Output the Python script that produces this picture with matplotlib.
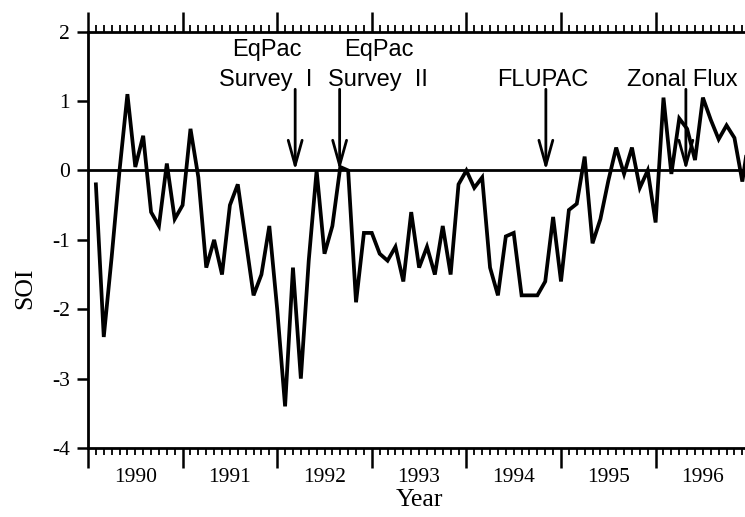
import matplotlib
matplotlib.use("Agg")
import matplotlib.pyplot as plt
from matplotlib.ticker import MultipleLocator, NullFormatter
import matplotlib.transforms as mtransforms

# monthly SOI, Jan 1990 onwards
soi = [-0.2, -2.4, -1.25, 0.0, 1.1, 0.05, 0.5, -0.6, -0.8, 0.1, -0.7, -0.5,
       0.6, -0.1, -1.4, -1.0, -1.5, -0.5, -0.2, -1.0, -1.8, -1.5, -0.8, -2.0,
       -3.4, -1.4, -3.0, -1.3, 0.0, -1.2, -0.8, 0.05, 0.0, -1.9, -0.9, -0.9,
       -1.2, -1.3, -1.1, -1.6, -0.6, -1.4, -1.1, -1.5, -0.8, -1.5, -0.2, 0.0,
       -0.25, -0.1, -1.4, -1.8, -0.95, -0.9, -1.8, -1.8, -1.8, -1.6, -0.67, -1.6,
       -0.57, -0.48, 0.2, -1.05, -0.7, -0.15, 0.33, -0.05, 0.33, -0.25, 0.0, -0.75,
       1.05, -0.05, 0.75, 0.6, 0.15, 1.05, 0.73, 0.45, 0.65, 0.47, -0.16, 0.6]
t = [1990 + (i + 1) / 12 for i in range(len(soi))]

years = [1990, 1991, 1992, 1993, 1994, 1995, 1996]
yticks = [-4, -3, -2, -1, 0, 1, 2]

# cruises / experiments marked with arrows
event_dates = [1992.19, 1992.66, 1994.84, 1996.32]

plt.rcParams['axes.unicode_minus'] = False
serif = "Liberation Serif"
sans = "Liberation Sans"

fig = plt.figure(figsize=(7.45, 5.17), dpi=100)
ax = fig.add_axes([88 / 745, 1 - 448 / 517, 657 / 745, (448 - 31.7) / 517])

ax.plot(t, soi, color="black", lw=2.7, solid_joinstyle="miter")
ax.axhline(0, color="black", lw=2.0)

ax.set_xlim(1990, 1990 + 657 / 94.6)
ax.set_ylim(-4, 2)

ax.spines['right'].set_visible(False)
for s in ['left', 'top', 'bottom']:
    ax.spines[s].set_linewidth(2.0)

ax.set_xticks(years)
ax.xaxis.set_minor_locator(MultipleLocator(1 / 12))
ax.xaxis.set_major_formatter(NullFormatter())
ax.tick_params(axis='x', which='major', direction='out', top=True, bottom=True,
               length=14.5, width=1.8)
ax.tick_params(axis='x', which='minor', direction='out', top=True, bottom=True,
               length=5, width=1.3)

ax.set_yticks(yticks)
ax.set_yticklabels([str(v) for v in yticks], fontfamily=serif, fontsize=15.5)
ax.tick_params(axis='y', direction='out', length=8, width=1.8, pad=5, right=False)

# year labels sit in the middle of each year
trans = mtransforms.blended_transform_factory(ax.transData, ax.transAxes)
for y in years:
    ax.text(y + 0.5, -0.07, str(y), transform=trans, ha='center', va='center',
            fontfamily=serif, fontsize=15.5)

ax.set_xlabel("Year", fontfamily=serif, fontsize=18.5, va='center')
ax.xaxis.set_label_coords(0.505, -0.125)
ax.set_ylabel("SOI", fontfamily=serif, fontsize=18.5, va='center')
ax.yaxis.set_label_coords(-0.096, 0.384)

for x in event_dates:
    ax.annotate("", xy=(x, 0.0), xytext=(x, 1.17),
                arrowprops=dict(arrowstyle="->,head_length=1.8,head_width=0.5",
                                mutation_scale=10, lw=2.0, color="black",
                                shrinkA=0, shrinkB=0))

fs = 17
ax.text(1991.89, 1.65, "EqPac", ha='center', va='baseline', fontfamily=sans, fontsize=fs)
ax.text(1991.88, 1.22, "Survey  I", ha='center', va='baseline', fontfamily=sans, fontsize=fs)
ax.text(1993.07, 1.65, "EqPac", ha='center', va='baseline', fontfamily=sans, fontsize=fs)
ax.text(1993.07, 1.22, "Survey  II", ha='center', va='baseline', fontfamily=sans, fontsize=fs)
ax.text(1994.81, 1.22, "FLUPAC", ha='center', va='baseline', fontfamily=sans, fontsize=fs)
ax.text(1995.70, 1.22, "Zonal Flux", ha='left', va='baseline', fontfamily=sans, fontsize=fs,
        clip_on=False)

fig.savefig("out.png", dpi=100)
